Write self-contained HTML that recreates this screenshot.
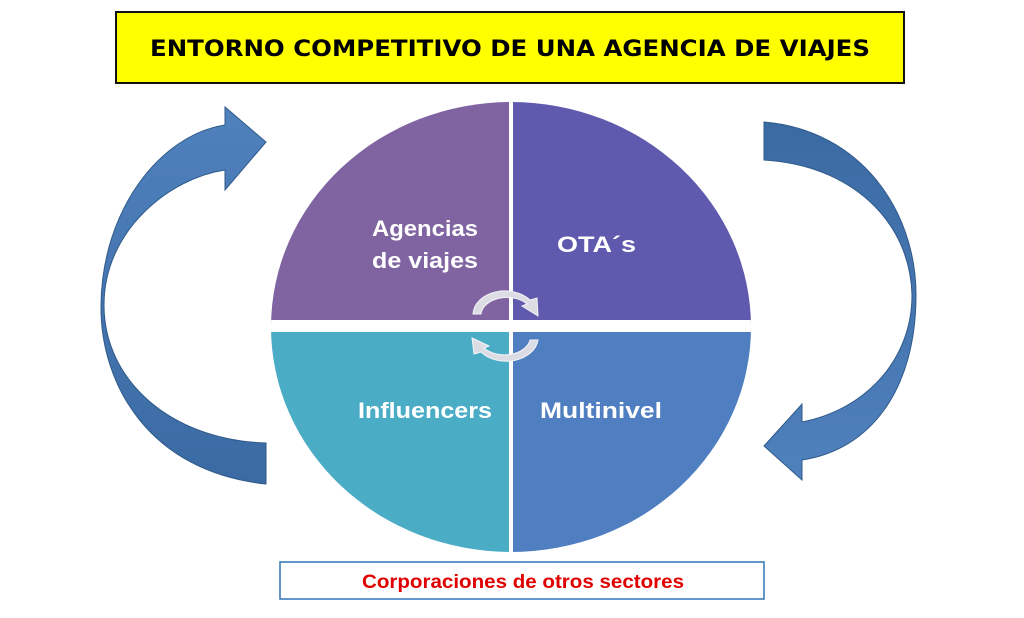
<!DOCTYPE html>
<html><head><meta charset="utf-8"><style>
html,body{margin:0;padding:0;background:#fff;}
svg{display:block;}
</style></head><body>
<svg width="1024" height="618" viewBox="0 0 1024 618" xmlns="http://www.w3.org/2000/svg">
<defs>
<linearGradient id="lg" x1="0" y1="0" x2="0" y2="1">
<stop offset="0" stop-color="#4f81bd"/><stop offset="1" stop-color="#3b6aa3"/>
</linearGradient>
<linearGradient id="rg" x1="0" y1="0" x2="0" y2="1">
<stop offset="0" stop-color="#3b6aa3"/><stop offset="1" stop-color="#4f81bd"/>
</linearGradient>
<clipPath id="ell"><ellipse cx="511" cy="327" rx="240" ry="225"/></clipPath>
</defs>
<rect x="116" y="12" width="788" height="71" fill="#ffff00" stroke="#111" stroke-width="2"/>
<text x="150" y="56" textLength="720" lengthAdjust="spacingAndGlyphs" font-family="DejaVu Sans, sans-serif" font-weight="bold" font-size="22" fill="#000">ENTORNO COMPETITIVO DE UNA AGENCIA DE VIAJES</text>

<path d="M266,484 C150,472 100,385 101,305 C102,210 160,135 225,125 L225,107 L266,142 L225,190 L225,170 C170,178 104,230 104,305 C104,380 170,440 266,443 Z" fill="url(#lg)" stroke="#2f5a8a" stroke-width="1"/>
<path d="M764,122 C860,130 916,210 916,295 C916,390 870,450 802,460 L802,480 L764,446 L802,404 L802,422 C865,410 912,360 912,295 C910,220 850,165 764,160 Z" fill="url(#rg)" stroke="#2f5a8a" stroke-width="1"/>

<g clip-path="url(#ell)">
<rect x="260" y="95" width="251" height="232" fill="#8064a2"/>
<rect x="511" y="95" width="250" height="232" fill="#5f5aad"/>
<rect x="260" y="327" width="251" height="230" fill="#4bacc6"/>
<rect x="511" y="327" width="250" height="230" fill="#4f7fc0"/>
<rect x="509" y="95" width="4" height="470" fill="#fff"/>
<rect x="260" y="320" width="510" height="12" fill="#fff"/>
</g>

<g fill="#dcdce4" stroke="#f4f4f8" stroke-width="1">
<path d="M473,314 A32,24 0 0 1 530,300 L537,298 L538,316 L522,306 L527,304 A26,18 0 0 0 481,314 Z"/>
<path d="M538,340 A32,24 0 0 1 481,352 L474,354 L472,338 L489,346 L484,348 A26,18 0 0 0 530,340 Z"/>
</g>

<g font-family="Liberation Sans, sans-serif" font-weight="bold" fill="#fff" font-size="22">
<text x="372" y="236" textLength="106" lengthAdjust="spacingAndGlyphs">Agencias</text>
<text x="372" y="268" textLength="106" lengthAdjust="spacingAndGlyphs">de viajes</text>
<text x="557" y="252" textLength="79" lengthAdjust="spacingAndGlyphs">OTA´s</text>
<text x="358" y="418" textLength="134" lengthAdjust="spacingAndGlyphs">Influencers</text>
<text x="540" y="418" textLength="122" lengthAdjust="spacingAndGlyphs">Multinivel</text>
</g>

<rect x="280" y="562" width="484" height="37" fill="#fff" stroke="#2e75b6" stroke-width="1.5"/>
<text x="362" y="588" textLength="322" lengthAdjust="spacingAndGlyphs" font-family="Liberation Sans, sans-serif" font-weight="bold" font-size="19" fill="#e00000">Corporaciones de otros sectores</text>
</svg>
</body></html>
